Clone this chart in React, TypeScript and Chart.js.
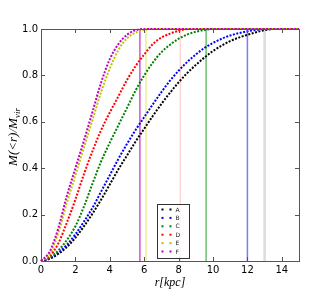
import React, { useEffect, useRef } from "react";
import { Chart, registerables } from "chart.js";

Chart.register(...registerables);

// radius grid [kpc]
const R = [0, 0.5, 1, 1.5, 2, 2.5, 3, 3.5, 4, 4.5, 5, 5.5, 6, 6.5, 7, 7.5, 8, 8.5, 9, 9.5, 10, 10.5, 11, 11.5, 12, 12.5, 13, 13.5, 14, 14.5, 15];

const LABELS = ["A", "B", "C", "D", "E", "F"];
const COLORS = ["#000000", "#0000ff", "#008000", "#ff0000", "#bfbf00", "#bf00bf"];

const M_A = [0, 0.01, 0.03, 0.06, 0.1, 0.15, 0.205, 0.265, 0.33, 0.395, 0.455, 0.515, 0.57, 0.625, 0.677, 0.725, 0.77, 0.81, 0.845, 0.877, 0.905, 0.928, 0.948, 0.963, 0.975, 0.986, 0.995, 1, 1, 1, 1];
const M_B = [0, 0.01, 0.035, 0.07, 0.115, 0.17, 0.23, 0.3, 0.37, 0.44, 0.505, 0.565, 0.62, 0.675, 0.728, 0.777, 0.82, 0.858, 0.89, 0.918, 0.94, 0.958, 0.972, 0.982, 0.99, 0.996, 1, 1, 1, 1, 1];
const M_C = [0, 0.015, 0.045, 0.09, 0.15, 0.235, 0.335, 0.43, 0.51, 0.585, 0.66, 0.735, 0.8, 0.855, 0.9, 0.932, 0.958, 0.976, 0.988, 0.996, 1, 1, 1, 1, 1, 1, 1, 1, 1, 1, 1];
const M_D = [0, 0.02, 0.075, 0.165, 0.265, 0.375, 0.475, 0.565, 0.64, 0.71, 0.78, 0.84, 0.89, 0.935, 0.963, 0.98, 0.992, 1, 1, 1, 1, 1, 1, 1, 1, 1, 1, 1, 1, 1, 1];
const M_E = [0, 0.03, 0.12, 0.25, 0.37, 0.49, 0.61, 0.73, 0.83, 0.91, 0.96, 0.985, 0.997, 1, 1, 1, 1, 1, 1, 1, 1, 1, 1, 1, 1, 1, 1, 1, 1, 1, 1];
const M_F = [0, 0.04, 0.14, 0.28, 0.4, 0.52, 0.645, 0.77, 0.87, 0.935, 0.975, 0.995, 1, 1, 1, 1, 1, 1, 1, 1, 1, 1, 1, 1, 1, 1, 1, 1, 1, 1, 1];
const SERIES = [M_A, M_B, M_C, M_D, M_E, M_F];

// truncation radii (vertical lines)
const TRUNC_R = [13.0, 12.0, 9.6, 8.1, 6.1, 5.75];
const TRUNC_COLORS = ["#dcdcdc", "#7b7bff", "#70bc70", "#ffd6d6", "#eeee90", "#cc55cc"];

const X_TICKS = [0, 2, 4, 6, 8, 10, 12, 14];
const Y_TICKS = [0, 0.2, 0.4, 0.6, 0.8, 1.0];

const decorPlugin = {
  id: "decor",
  beforeDatasetsDraw(chart: any) {
    const { ctx, chartArea, scales } = chart;
    ctx.save();
    TRUNC_R.forEach((r, i) => {
      const x = scales.x.getPixelForValue(r);
      ctx.strokeStyle = TRUNC_COLORS[i];
      ctx.lineWidth = i === 0 ? 2.5 : 1.5;
      ctx.beginPath();
      ctx.moveTo(x, chartArea.top);
      ctx.lineTo(x, chartArea.bottom);
      ctx.stroke();
    });
    ctx.restore();
  },
  afterDatasetsDraw(chart: any) {
    const { ctx, chartArea, scales } = chart;
    const { left, right, top, bottom } = chartArea;
    ctx.save();
    // frame
    ctx.strokeStyle = "#555555";
    ctx.lineWidth = 1;
    ctx.strokeRect(Math.round(left) + 0.5, Math.round(top) + 0.5, Math.round(right - left), Math.round(bottom - top));
    // inner ticks
    const tl = 4;
    ctx.beginPath();
    X_TICKS.forEach((v) => {
      const x = Math.round(scales.x.getPixelForValue(v)) + 0.5;
      ctx.moveTo(x, bottom);
      ctx.lineTo(x, bottom - tl);
      ctx.moveTo(x, top);
      ctx.lineTo(x, top + tl);
    });
    Y_TICKS.forEach((v) => {
      const y = Math.round(scales.y.getPixelForValue(v)) + 0.5;
      ctx.moveTo(left, y);
      ctx.lineTo(left + tl, y);
      ctx.moveTo(right, y);
      ctx.lineTo(right - tl, y);
    });
    ctx.stroke();

    // legend
    const bx = 157.5, by = 204.5, bw = 32, bh = 54;
    ctx.fillStyle = "rgba(255,255,255,0.8)";
    ctx.fillRect(bx, by, bw, bh);
    ctx.strokeStyle = "#333333";
    ctx.lineWidth = 1;
    ctx.strokeRect(bx, by, bw, bh);
    ctx.font = "6px 'DejaVu Sans'";
    ctx.textBaseline = "middle";
    ctx.textAlign = "left";
    LABELS.forEach((lab, i) => {
      const y = 209.5 + i * 8.4;
      ctx.fillStyle = COLORS[i];
      ctx.fillRect(161.5, y - 1, 2, 2);
      ctx.fillRect(169.5, y - 1, 2, 2);
      ctx.fillStyle = "#222222";
      ctx.fillText(lab, 175.5, y + 0.5);
    });
    ctx.restore();
  },
  afterDraw(chart: any) {
    const { ctx, chartArea } = chart;
    ctx.save();
    ctx.fillStyle = "#000000";
    // x title
    ctx.font = "italic 12px 'Liberation Serif'";
    ctx.textAlign = "center";
    ctx.textBaseline = "middle";
    ctx.fillText("r[kpc]", (chartArea.left + chartArea.right) / 2, 283);
    // y title
    ctx.translate(13, 137);
    ctx.rotate(-Math.PI / 2);
    const main = "M(<r)/M";
    const sub = "vir";
    ctx.font = "italic 13px 'Liberation Serif'";
    const wMain = ctx.measureText(main).width;
    ctx.font = "italic 9px 'Liberation Serif'";
    const wSub = ctx.measureText(sub).width;
    const total = wMain + wSub;
    ctx.textAlign = "left";
    ctx.textBaseline = "alphabetic";
    ctx.font = "italic 13px 'Liberation Serif'";
    ctx.fillText(main, -total / 2, 4);
    ctx.font = "italic 9px 'Liberation Serif'";
    ctx.fillText(sub, -total / 2 + wMain, 7);
    ctx.restore();
  },
};

export default function App() {
  const ref = useRef<HTMLCanvasElement | null>(null);
  useEffect(() => {
    if (!ref.current) return;
    const datasets = SERIES.map((vals, i) => ({
      label: LABELS[i],
      data: R.map((r, k) => ({ x: r, y: vals[k] })),
      borderColor: COLORS[i],
      backgroundColor: COLORS[i],
      borderWidth: 2,
      borderDash: [2, 1.5],
      pointRadius: 0,
      fill: false,
      cubicInterpolationMode: "monotone" as const,
      clip: 3,
      order: SERIES.length - i,
    }));
    const chart = new Chart(ref.current, {
      type: "line",
      data: { datasets },
      options: {
        responsive: false,
        animation: false,
        devicePixelRatio: 1,
        layout: { padding: { left: 0, right: 33, top: 29, bottom: 0 } },
        plugins: { legend: { display: false }, tooltip: { enabled: false } },
        scales: {
          x: {
            type: "linear",
            min: 0,
            max: 15,
            grid: { display: false, drawTicks: false },
            border: { display: false },
            afterBuildTicks: (s: any) => {
              s.ticks = X_TICKS.map((v) => ({ value: v }));
            },
            afterFit: (s: any) => {
              s.height = 30;
            },
            ticks: {
              padding: 3,
              maxRotation: 0,
              autoSkip: false,
              color: "#000000",
              font: { size: 10, family: "'DejaVu Sans'" },
              callback: (v: any) => String(v),
            },
          },
          y: {
            type: "linear",
            min: 0,
            max: 1,
            grid: { display: false, drawTicks: false },
            border: { display: false },
            afterBuildTicks: (s: any) => {
              s.ticks = Y_TICKS.map((v) => ({ value: v }));
            },
            afterFit: (s: any) => {
              s.width = 41;
            },
            ticks: {
              padding: 3,
              autoSkip: false,
              color: "#000000",
              font: { size: 10, family: "'DejaVu Sans'" },
              callback: (v: any) => Number(v).toFixed(1),
            },
          },
        },
      },
      plugins: [decorPlugin],
    });
    return () => chart.destroy();
  }, []);
  return (
    <div style={{ position: "absolute", left: 0, top: 0, width: 332, height: 291 }}>
      <canvas ref={ref} width={332} height={291} />
    </div>
  );
}
